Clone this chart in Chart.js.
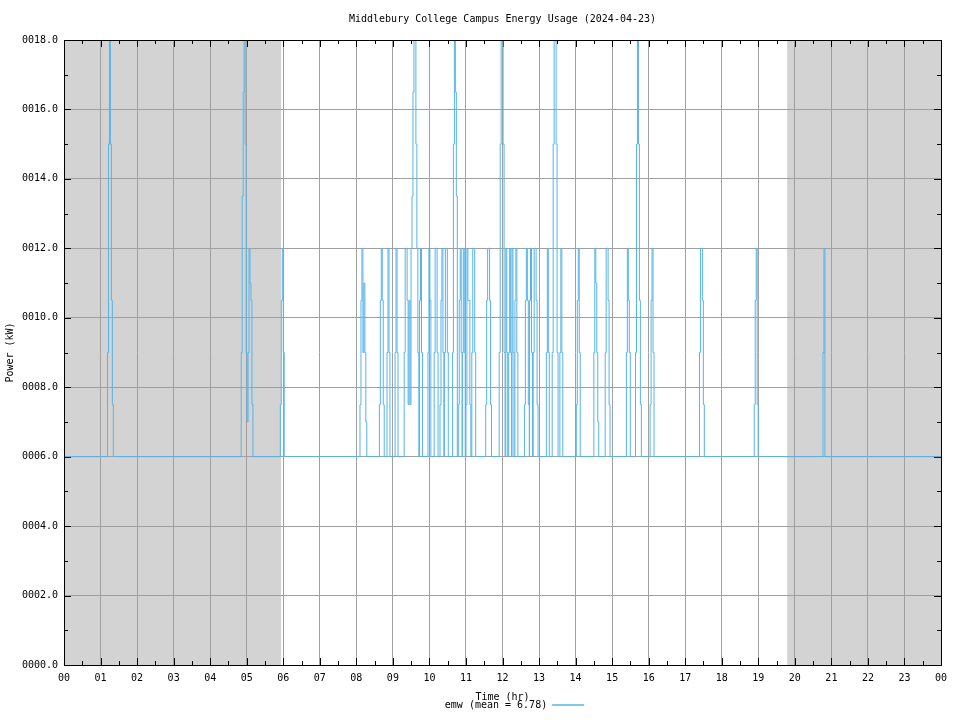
<!DOCTYPE html>
<html>
<head>
<meta charset="utf-8">
<title>Middlebury College Campus Energy Usage (2024-04-23)</title>
<script src="https://cdn.jsdelivr.net/npm/chart.js@4.4.1/dist/chart.umd.min.js"></script>
<style>
  html, body { margin: 0; padding: 0; background: #fff; }
  canvas { display: block; }
</style>
</head>
<body>
<canvas id="energyChart" width="960" height="720"></canvas>
<script>
// Readings: baseline load with short bursts. Each burst = start hour + the levels
// of consecutive samples (kW).
const baseLoad = 6;
const sampleHours = 1.6 / 60;

const spikeStart = [
    1.19, 4.85, 5.92, 8.10, 8.63, 8.84, 9.06, 9.31, 9.73, 9.96,
    10.13, 10.29, 10.41, 10.63, 10.79, 10.90, 11.00, 11.54, 11.91, 12.09,
    12.17, 12.26, 12.34, 12.60, 12.74, 12.84, 13.20, 13.36, 13.57, 14.02,
    14.50, 14.81, 15.39, 15.64, 16.04, 17.39, 18.89, 20.77
];
const spikeLevels = [
    [9, 15, 19, 15, 10.5, 7.5],
    [9, 13.5, 16.5, 19, 15, 9, 7, 9, 12, 11, 10.5, 7.5],
    [7.5, 10.5, 12, 9],
    [7.5, 10.5, 12, 9, 11, 9, 7],
    [7.5, 10.5, 12, 10.5, 7.5],
    [9, 12, 9],
    [9, 12, 9],
    [9, 12, 12, 10.5, 7.5, 10.5, 7.5, 12, 13.5, 16.5, 19, 19, 15, 12, 9],
    [10.5, 12, 9],
    [9, 12, 10.5],
    [9, 12, 12, 9],
    [7.5, 10.5, 12, 9],
    [9, 12, 12, 9],
    [9, 15, 19, 16.5, 13.5],
    [7.5, 10.5, 12, 9],
    [9, 12, 9],
    [7.5, 12, 10.5, 10.5, 7.5, 6, 9, 12, 12, 9],
    [7.5, 10.5, 12, 12, 10.5, 7.5],
    [9, 15, 19, 19, 15, 9],
    [12, 9],
    [9, 12, 9],
    [12, 9],
    [10.5, 12, 9],
    [7.5, 10.5, 12, 10.5, 7.5],
    [10.5, 12, 9],
    [9, 12, 12, 10.5, 7.5],
    [9, 12, 9],
    [9, 15, 19, 19, 15, 9],
    [9, 12, 9],
    [7.5, 10.5, 12, 9],
    [9, 12, 11, 9, 7],
    [9, 12, 12, 10.5, 7.5],
    [9, 12, 10.5, 9],
    [9, 15, 19, 15, 10.5, 7.5],
    [7.5, 10.5, 12, 9],
    [9, 12, 12, 10.5, 7.5],
    [7.5, 10.5, 12, 7.5],
    [9, 12]
];

// shaded hours (before sunrise / after sunset)
const nightSpans = [[0, 5.94], [19.79, 24]];

const hourLabels = ['00', '01', '02', '03', '04', '05', '06', '07', '08', '09', '10', '11',
    '12', '13', '14', '15', '16', '17', '18', '19', '20', '21', '22', '23', '00'];

const points = [{ x: 0, y: baseLoad }];
spikeStart.forEach((t0, i) => {
    spikeLevels[i].forEach((v, k) => points.push({ x: t0 + k * sampleHours, y: v }));
    points.push({ x: t0 + spikeLevels[i].length * sampleHours, y: baseLoad });
});
points.push({ x: 24, y: baseLoad });

const lineColor = '#56b4e9';
const gridColor = '#a0a0a0';

Chart.defaults.font.family = '"DejaVu Sans Mono", monospace';
Chart.defaults.font.size = 10;
Chart.defaults.color = '#000';

// night shading under the grid, gnuplot-style inward ticks and frame
const frame = {
    id: 'frame',
    afterLayout(chart) {
        // gnuplot puts the key a bit right of centre
        chart.legend.left += 12;
        chart.legend.right += 12;
    },
    beforeDraw(chart) {
        const { ctx, chartArea: a, scales: { x } } = chart;
        ctx.save();
        ctx.fillStyle = '#fff';
        ctx.fillRect(0, 0, chart.width, chart.height);
        ctx.fillStyle = '#d3d3d3';
        nightSpans.forEach(([from, to]) => {
            const l = x.getPixelForValue(from);
            const r = x.getPixelForValue(to);
            ctx.fillRect(l, a.top, r - l, a.bottom - a.top);
        });
        ctx.restore();
    },
    beforeDatasetsDraw(chart) {
        const { ctx, chartArea: a, scales: { x, y } } = chart;
        const px = v => Math.round(v) + 0.5;
        ctx.save();
        ctx.strokeStyle = '#000';
        ctx.lineWidth = 1;
        ctx.beginPath();
        for (let h = 0; h <= 24; h += 0.5) {
            const len = Number.isInteger(h) ? 7 : 4;
            const xp = px(x.getPixelForValue(h));
            ctx.moveTo(xp, a.bottom); ctx.lineTo(xp, a.bottom - len);
            ctx.moveTo(xp, a.top); ctx.lineTo(xp, a.top + len);
        }
        for (let v = 0; v <= 18; v++) {
            const len = v % 2 === 0 ? 7 : 4;
            const yp = px(y.getPixelForValue(v));
            ctx.moveTo(a.left, yp); ctx.lineTo(a.left + len, yp);
            ctx.moveTo(a.right, yp); ctx.lineTo(a.right - len, yp);
        }
        ctx.stroke();
        ctx.restore();
    },
    afterDatasetsDraw(chart) {
        const { ctx, chartArea: a } = chart;
        const px = v => Math.round(v) + 0.5;
        ctx.save();
        ctx.strokeStyle = '#000';
        ctx.lineWidth = 1;
        ctx.strokeRect(px(a.left), px(a.top), Math.round(a.right - a.left), Math.round(a.bottom - a.top));
        ctx.restore();
    }
};

new Chart(document.getElementById('energyChart'), {
    type: 'line',
    data: {
        datasets: [{
            label: 'emw (mean = 6.78)',
            data: points,
            stepped: 'before',
            borderColor: lineColor,
            backgroundColor: lineColor,
            borderWidth: 1,
            pointRadius: 0,
            fill: false,
            clip: 0
        }]
    },
    options: {
        responsive: false,
        animation: false,
        events: [],
        layout: { padding: { left: 0, right: 19, top: 0, bottom: 0 } },
        scales: {
            x: {
                type: 'linear',
                min: 0,
                max: 24,
                afterFit: scale => { scale.height = 35; },
                ticks: {
                    stepSize: 1,
                    autoSkip: false,
                    maxRotation: 0,
                    padding: 7,
                    callback: v => hourLabels[Math.round(v)]
                },
                grid: { color: gridColor, drawTicks: false },
                border: { display: false },
                title: { display: true, text: 'Time (hr)', padding: { top: 0, bottom: -3 } }
            },
            y: {
                min: 0,
                max: 18,
                afterFit: scale => { scale.width = 64; },
                ticks: {
                    stepSize: 2,
                    padding: 6,
                    callback: v => v.toFixed(1).padStart(6, '0')
                },
                grid: { color: gridColor, drawTicks: false },
                border: { display: false },
                title: { display: true, text: 'Power (kW)', padding: { top: 4, bottom: 0 } }
            }
        },
        plugins: {
            title: {
                display: true,
                text: 'Middlebury College Campus Energy Usage (2024-04-23)',
                fullSize: false,
                font: { size: 10, weight: 'normal' },
                padding: { top: 13, bottom: 15 }
            },
            legend: {
                position: 'bottom',
                fullSize: false,
                rtl: true,
                textDirection: 'ltr',
                labels: { boxWidth: 32, boxHeight: 0, padding: 0 }
            },
            tooltip: { enabled: false }
        }
    },
    plugins: [frame]
});
</script>
</body>
</html>
